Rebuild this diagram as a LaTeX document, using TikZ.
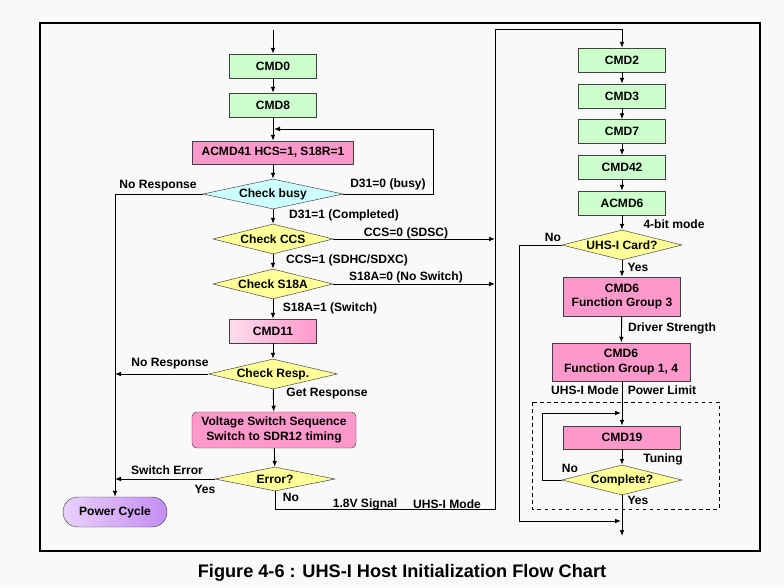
\documentclass[tikz,border=0pt]{standalone}
\usepackage{fontspec}
\setmainfont{Liberation Sans}
\usepackage{tikz}
\usetikzlibrary{shapes.geometric, arrows.meta}

\definecolor{cmdgreen}{HTML}{CCFFCC}
\definecolor{cmdpink}{HTML}{FF99CC}
\definecolor{cmdcyan}{HTML}{CCFFFF}
\definecolor{cmdyellow}{HTML}{FFFF99}
\definecolor{cmdpurple}{HTML}{C58CF5}
\definecolor{pagegray}{HTML}{F9F9F9}

\tikzset{
    txt/.style={font=\bfseries\fontsize{10.3}{12.5}\selectfont},
    greenbox/.style={txt, draw=black!75, fill=cmdgreen, inner sep=0pt,
        minimum width=2.61cm, minimum height=0.72cm},
    pinkbox/.style={txt, draw=black!75, fill=cmdpink, inner sep=0pt,
        align=center, minimum height=0.72cm},
    decision/.style={txt, diamond, aspect=5, draw=black!75, inner sep=0pt,
        fill=cmdyellow, minimum width=3.6cm, minimum height=0.9cm},
    lbl/.style={txt, inner sep=0pt},
    flow/.style={line width=0.8pt, -{Latex[length=1.8mm, width=1.4mm]}},
    link/.style={line width=0.8pt}
}

\begin{document}
\begin{tikzpicture}[x=0.03cm, y=-0.03cm]

    \fill[pagegray] (0,0) rectangle (784,587);
    \useasboundingbox (0,0) rectangle (784,587);
    \draw[line width=1.2pt] (40,23) rectangle (760,551);
    \draw[dashed, line width=0.5pt] (532,402) rectangle (719,509);

    \coordinate (start) at (273,30);
    \coordinate (loopR) at (433,129);
    \coordinate (loopIn) at (274,129);
    \coordinate (bendR) at (495,509);
    \coordinate (topR) at (622,29);
    \coordinate (mergeL) at (519,521);
    \coordinate (mergeIn) at (621,521);
    \coordinate (tuneL) at (542,413);
    \coordinate (tuneIn) at (621,413);
    \coordinate (finish) at (622,536);

    % left column
    \node[greenbox] (cmd0) at (273,66) {CMD0};
    \node[greenbox] (cmd8) at (273,105) {CMD8};
    \node[pinkbox, minimum width=4.83cm, minimum height=0.69cm] (acmd41) at (273,152.5) {ACMD41 HCS=1, S18R=1};
    \node[decision, fill=cmdcyan, minimum width=4.2cm] (chkbusy) at (273,194) {Check busy};
    \node[decision] (chkccs) at (273,239) {Check CCS};
    \node[decision] (chks18a) at (273,284) {Check S18A};
    \node[pinkbox, minimum width=2.61cm, left color=cmdpink!35, right color=cmdpink] (cmd11) at (273,331) {CMD11};
    \node[decision] (chkresp) at (273,374) {Check Resp.};
    \node[pinkbox, rounded corners=4pt, minimum width=4.92cm, minimum height=1.08cm] (vss) at (274,430) {Voltage Switch Sequence\\Switch to SDR12 timing};
    \node[decision, minimum height=0.72cm] (error) at (275,479) {Error?};
    \node[txt, draw=black!75, rounded corners=0.45cm, inner sep=0pt, minimum width=3.12cm, minimum height=0.9cm,
        left color=cmdpurple!40, right color=cmdpurple] (pcycle) at (115,512) {Power Cycle};

    % right column
    \node[greenbox] (cmd2) at (622,60) {CMD2};
    \node[greenbox] (cmd3) at (622,96) {CMD3};
    \node[greenbox] (cmd7) at (622,131.5) {CMD7};
    \node[greenbox] (cmd42) at (622,167.5) {CMD42};
    \node[greenbox] (acmd6) at (622,203) {ACMD6};
    \node[decision] (uhscard) at (622,245) {UHS-I Card?};
    \node[pinkbox, minimum width=3.51cm, minimum height=1.17cm] (cmd6a) at (622,296.5) {CMD6\\Function Group 3};
    \node[pinkbox, minimum width=4.14cm, minimum height=1.14cm] (cmd6b) at (621,362) {CMD6\\Function Group 1, 4};
    \node[pinkbox, minimum width=3.51cm, minimum height=0.69cm] (cmd19) at (622,437.5) {CMD19};
    \node[decision] (complete) at (622,480) {Complete?};

    % labels
    \node[lbl] (tNoResp) at (158,186) {No Response};
    \node[lbl] (tBusy) at (388,184) {D31=0 (busy)};
    \node[lbl] (tDone) at (344,215) {D31=1 (Completed)};
    \node[lbl] (tSDSC) at (406,233) {CCS=0 (SDSC)};
    \node[lbl] (tSDHC) at (347,260) {CCS=1 (SDHC/SDXC)};
    \node[lbl] (tNoSw) at (406,277) {S18A=0 (No Switch)};
    \node[lbl] (tSw) at (330,308) {S18A=1 (Switch)};
    \node[lbl] (tNoResp2) at (170,364) {No Response};
    \node[lbl] (tGetResp) at (327,394) {Get Response};
    \node[lbl] (tSwErr) at (167,470) {Switch Error};
    \node[lbl] (tErrYes) at (205,489) {Yes};
    \node[lbl] (tErrNo) at (291,497) {No};
    \node[lbl] (tSignal) at (365,504) {1.8V Signal};
    \node[lbl] (tUhsL) at (447,504) {UHS-I Mode};
    \node[lbl] (tFourBit) at (674,224) {4-bit mode};
    \node[lbl] (tCardNo) at (553,237) {No};
    \node[lbl] (tCardYes) at (638,267) {Yes};
    \node[lbl] (tDriver) at (672,328) {Driver Strength};
    \node[lbl] (tUhsR) at (585,390) {UHS-I Mode};
    \node[lbl] (tPower) at (662,390) {Power Limit};
    \node[lbl] (tTuning) at (663,459) {Tuning};
    \node[lbl] (tTuneNo) at (570,468) {No};
    \node[lbl] (tTuneYes) at (638,500) {Yes};

    \node[font=\bfseries\fontsize{15.5}{18}\selectfont, anchor=base, inner sep=0pt] (caption) at (402,577) {Figure 4-6 : UHS-I Host Initialization Flow Chart};

    % left flow
    \draw[flow] (start) -- (cmd0);
    \draw[flow] (cmd0) -- (cmd8);
    \draw[flow] (cmd8) -- (acmd41);
    \draw[flow] (acmd41) -- (chkbusy);
    \draw[flow] (chkbusy.east) -| (loopR) -- (loopIn);
    \draw[flow] (chkbusy.west) -| (pcycle.north);
    \draw[flow] (chkbusy) -- (chkccs);
    \draw[flow] (chkccs.east) -- (chkccs.east -| bendR);
    \draw[flow] (chkccs) -- (chks18a);
    \draw[flow] (chks18a.east) -- (chks18a.east -| bendR);
    \draw[flow] (chks18a) -- (cmd11);
    \draw[flow] (cmd11) -- (chkresp);
    \draw[flow] (chkresp.west) -- (chkresp.west -| pcycle.north);
    \draw[flow] (chkresp) -- (vss);
    \draw[flow] (vss) -- (error);
    \draw[flow] (error.west) -- (error.west -| pcycle.north);
    \draw[flow] (error.south) |- (bendR) |- (topR) -- (cmd2.north);

    % right flow
    \draw[flow] (cmd2) -- (cmd3);
    \draw[flow] (cmd3) -- (cmd7);
    \draw[flow] (cmd7) -- (cmd42);
    \draw[flow] (cmd42) -- (acmd6);
    \draw[flow] (acmd6) -- (uhscard);
    \draw[flow] (uhscard.west) -| (mergeL) -- (mergeIn);
    \draw[flow] (uhscard) -- (cmd6a);
    \draw[flow] (cmd6a) -- (cmd6b);
    \draw[flow] (cmd6b.south -| cmd19.north) -- (cmd19.north);
    \draw[flow] (cmd19) -- (complete);
    \draw[flow] (complete.west) -| (tuneL) -- (tuneIn);
    \draw[flow] (complete.south) -- (finish);

\end{tikzpicture}
\end{document}
